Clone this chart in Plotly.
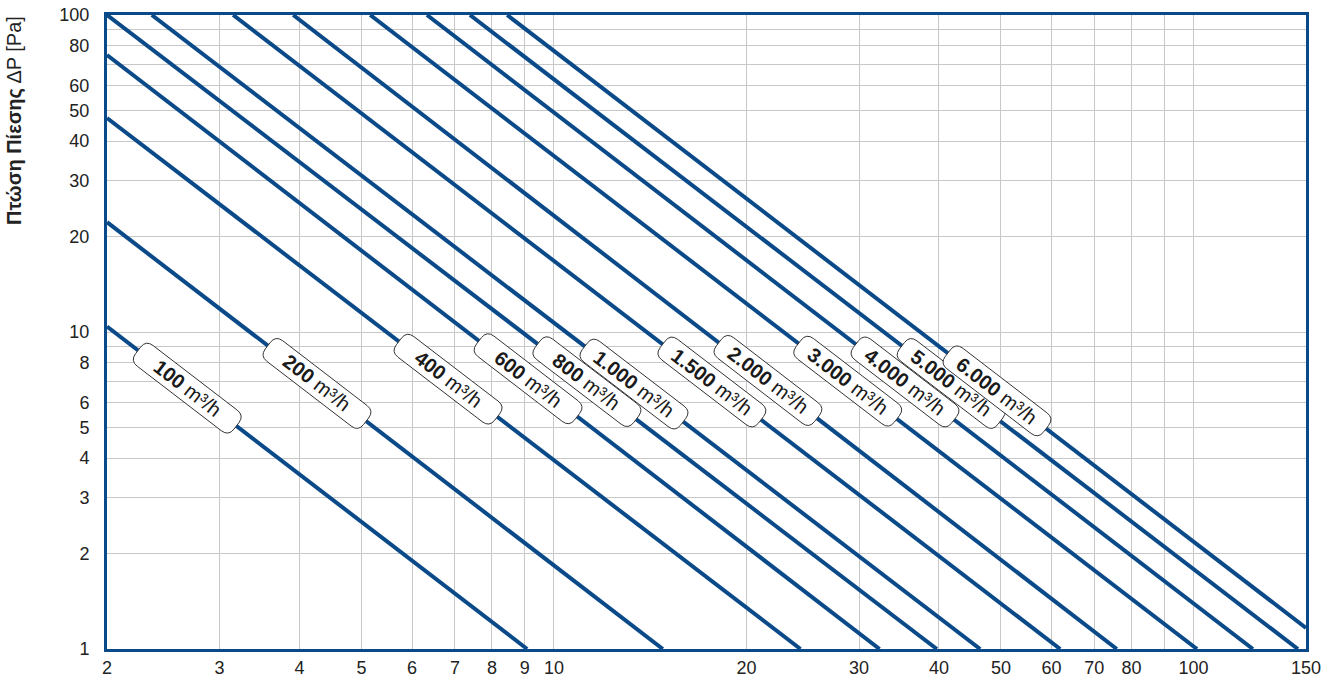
import math
import plotly.graph_objects as go

# ---------------- data ----------------
flows = ["100", "200", "400", "600", "800", "1.000", "1.500", "2.000",
         "3.000", "4.000", "5.000", "6.000"]
# start point of each line (entering the plot, left or top edge)
x_start = [2.0, 2.0, 2.0, 2.0, 2.0, 2.35, 3.15, 3.91, 5.16, 6.33, 7.39, 8.45]
y_start = [10.4, 22.2, 47.3, 74.8, 100, 100, 100, 100, 100, 100, 100, 100]
# end point of each line (leaving the plot, bottom or right edge)
x_end = [9.08, 14.8, 24.3, 32.3, 39.7, 46.4, 61.9, 75.9, 101.3, 123.9, 145.7, 150]
y_end = [1, 1, 1, 1, 1, 1, 1, 1, 1, 1, 1, 1.165]

x_ticks = [2, 3, 4, 5, 6, 7, 8, 9, 10, 20, 30, 40, 50, 60, 70, 80, 90, 100, 150]
x_ticktext = ["2", "3", "4", "5", "6", "7", "8", "9", "10", "20", "30", "40",
              "50", "60", "70", "80", "", "100", "150"]
y_ticks = [1, 2, 3, 4, 5, 6, 7, 8, 9, 10, 20, 30, 40, 50, 60, 70, 80, 90, 100]
y_ticktext = ["1", "2", "3", "4", "5", "6", "", "8", "", "10", "20", "30",
              "40", "50", "60", "", "80", "", "100"]

# label positions (x value of the label centre on each line)
label_x = [2.67, 4.26, 6.83, 9.11, 11.26, 13.34, 17.66, 21.61, 28.8, 35.4, 41.8, 49.3]

# ---------------- layout geometry ----------------
W, H = 1332, 682
ML, MR, MT, MB = 107, 26, 15, 33
XR = [math.log10(2), math.log10(150)]
YR = [0, 2]
pw, ph = W - ML - MR, H - MT - MB
px_per_dec_x = pw / (XR[1] - XR[0])
px_per_dec_y = ph / (YR[1] - YR[0])

BLUE = "#0b4a89"
FONT = "Liberation Sans, Arial, sans-serif"

fig = go.Figure()
for i, f in enumerate(flows):
    fig.add_trace(go.Scatter(
        x=[x_start[i], x_end[i]], y=[y_start[i], y_end[i]],
        mode="lines", line=dict(color=BLUE, width=4),
        hoverinfo="skip", showlegend=False, cliponaxis=True))

shapes = []
annotations = []
BL, BH, BR = 124, 26, 9  # label box length, height, corner radius (px)
for i, f in enumerate(flows):
    lx0, ly0 = math.log10(x_start[i]), math.log10(y_start[i])
    lx1, ly1 = math.log10(x_end[i]), math.log10(y_end[i])
    s = (ly0 - ly1) / (lx1 - lx0)
    lx = math.log10(label_x[i])
    ly = ly0 - s * (lx - lx0)
    cx, cy = 10 ** lx, 10 ** ly
    th = math.atan(s * px_per_dec_y / px_per_dec_x)
    c, sn = math.cos(th), math.sin(th)

    def P(u, v):
        X = u * c + v * sn
        Y = -u * sn + v * c
        return f"{X:.2f},{Y:.2f}"

    a, b, r = BL / 2, BH / 2, BR
    path = (f"M{P(-a + r, b)} L{P(a - r, b)} Q{P(a, b)} {P(a, b - r)} "
            f"L{P(a, -b + r)} Q{P(a, -b)} {P(a - r, -b)} "
            f"L{P(-a + r, -b)} Q{P(-a, -b)} {P(-a, -b + r)} "
            f"L{P(-a, b - r)} Q{P(-a, b)} {P(-a + r, b)} Z")
    shapes.append(dict(type="path", xref="x", yref="y",
                       xsizemode="pixel", ysizemode="pixel",
                       xanchor=cx, yanchor=cy, path=path,
                       fillcolor="white", line=dict(color="#333333", width=1),
                       layer="above"))
    annotations.append(dict(x=math.log10(cx), y=math.log10(cy), xref="x", yref="y",
                            text=f"<b>{f}</b> m³/h", showarrow=False,
                            textangle=math.degrees(th),
                            xanchor="center", yanchor="middle",
                            font=dict(family=FONT, size=20, color="#1a1a1a")))

annotations.append(dict(
    x=(14 - ML) / pw, y=(H - MB - 121) / ph, xref="paper", yref="paper",
    text="<b>Πτώση Πίεσης</b> ΔP [Pa]", showarrow=False, textangle=-90,
    xanchor="center", yanchor="middle",
    font=dict(family=FONT, size=20, color="#222222")))

fig.update_layout(
    width=W, height=H,
    margin=dict(l=ML, r=MR, t=MT, b=MB, pad=0, autoexpand=False),
    paper_bgcolor="white", plot_bgcolor="white",
    shapes=shapes, annotations=annotations,
    xaxis=dict(type="log", range=XR, tickvals=x_ticks, ticktext=x_ticktext,
               automargin=False,
               showgrid=True, gridcolor="#c8c8c8", gridwidth=1,
               showline=True, linecolor=BLUE, linewidth=3, mirror=True,
               ticks="", zeroline=False,
               tickfont=dict(family=FONT, size=18, color="#222222")),
    yaxis=dict(type="log", range=YR, tickvals=y_ticks, ticktext=y_ticktext,
               automargin=False,
               showgrid=True, gridcolor="#c8c8c8", gridwidth=1,
               showline=True, linecolor=BLUE, linewidth=3, mirror=True,
               ticks="outside", ticklen=11, tickcolor="rgba(0,0,0,0)",
               zeroline=False,
               tickfont=dict(family=FONT, size=18, color="#222222")),
)

fig.write_html("out.html",
               config={"displayModeBar": False},
               post_script="document.body.style.margin='0';"
                           "document.body.style.overflow='hidden';")
